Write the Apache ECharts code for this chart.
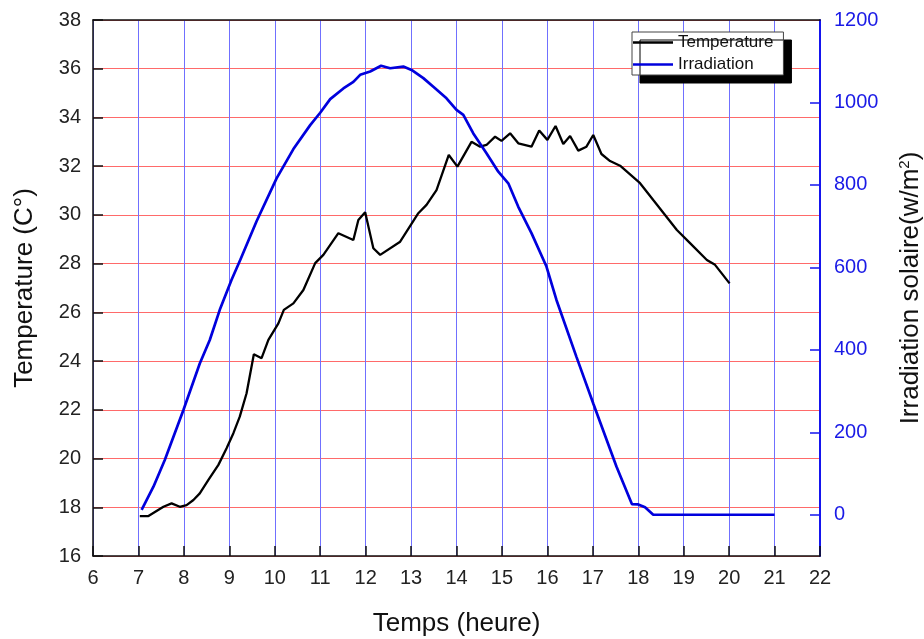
<!DOCTYPE html>
<html>
<head>
<meta charset="utf-8">
<script src="https://cdn.jsdelivr.net/npm/echarts@6/dist/echarts.min.js"></script>
<style>
html,body{margin:0;padding:0;background:#fff;}
#chart{width:924px;height:639px;}
</style>
</head>
<body>
<div id="chart"></div>
<script>
// Temperature series (hour, °C)
const tempHours = [7.03,7.22,7.55,7.73,7.91,8.06,8.21,8.35,8.54,8.76,8.94,9.09,9.23,9.38,9.54,9.71,9.86,10.08,10.2,10.41,10.63,10.89,11.07,11.4,11.73,11.84,11.99,12.17,12.32,12.76,13.16,13.34,13.56,13.83,14.02,14.33,14.52,14.66,14.85,14.99,15.18,15.36,15.65,15.82,16.0,16.18,16.35,16.5,16.68,16.86,17.01,17.19,17.38,17.6,18.04,18.33,18.85,19.14,19.51,19.69,20.01];
const tempValues = [17.64,17.64,18.02,18.16,18.02,18.09,18.3,18.57,19.12,19.74,20.42,21.04,21.72,22.68,24.28,24.12,24.87,25.55,26.1,26.37,26.92,28.02,28.36,29.25,28.97,29.79,30.11,28.63,28.36,28.9,30.07,30.41,31.02,32.46,31.98,33.0,32.8,32.87,33.21,33.04,33.35,32.94,32.8,33.46,33.08,33.65,32.91,33.24,32.64,32.8,33.28,32.5,32.21,32.02,31.3,30.61,29.38,28.84,28.15,27.95,27.19];
// Irradiation series (hour, W/m²)
const irrHours = [7.07,7.33,7.58,7.99,8.35,8.57,8.79,9.05,9.24,9.6,10.04,10.41,10.78,11.0,11.22,11.51,11.73,11.88,12.1,12.34,12.54,12.83,13.01,13.27,13.49,13.78,14.0,14.15,14.37,14.66,14.92,15.14,15.36,15.65,15.98,16.2,16.64,17.01,17.52,17.86,18.0,18.15,18.33,21.0];
const irrValues = [12,68,133,254,367,424,497,570,618,712,816,887,945,975,1008,1034,1050,1067,1075,1089,1083,1087,1079,1059,1038,1010,982,970,925,877,832,804,747,683,602,521,383,270,117,26,25,18,0,0];
// Axis ticks
const xTicks = [6,22,1];
const leftTicks = [16,38,2];
const rightRange = [-100,1200];
const rightLabelValues = [0,200,400,600,800,1000,1200];
const rightTickValues = [0,200,400,600,800,1000];

const tempData = tempHours.map((h,i)=>[h,tempValues[i]]);
const irrData = irrHours.map((h,i)=>[h,irrValues[i]]);

const FONT = 'Liberation Sans, Arial, sans-serif';
const chart = echarts.init(document.getElementById('chart'));
chart.setOption({
  animation:false,
  backgroundColor:'#fff',
  grid:{left:93,top:20,right:104,bottom:83,outerBoundsMode:'none',containLabel:false},
  legend:{
    left:632, top:32, orient:'vertical',
    padding:[2,10,2,1], itemGap:5, itemWidth:40, itemHeight:2.5, icon:'rect',
    backgroundColor:'#fff', borderColor:'#444', borderWidth:1,
    shadowColor:'#000', shadowOffsetX:8, shadowOffsetY:8, shadowBlur:0,
    textStyle:{fontFamily:FONT,fontSize:17,color:'#111'},
    data:['Temperature','Irradiation']
  },
  xAxis:[{
    type:'value', min:xTicks[0], max:xTicks[1], interval:xTicks[2], position:'bottom',
    name:'Temps (heure)', nameLocation:'middle', nameGap:55,
    nameTextStyle:{fontFamily:FONT,fontSize:26,color:'#111'},
    axisLine:{onZero:false,lineStyle:{color:'#111',width:1.5}},
    axisTick:{inside:true,length:10,lineStyle:{color:'#111',width:1.5}},
    axisLabel:{fontFamily:FONT,fontSize:20,color:'#222',margin:12},
    splitLine:{show:true,lineStyle:{color:'#7070ff',width:1}}
  },{
    type:'value', min:xTicks[0], max:xTicks[1], interval:xTicks[2], position:'top',
    axisLine:{show:true,onZero:false,lineStyle:{color:'#111',width:1.5}},
    axisTick:{show:false}, axisLabel:{show:false}, splitLine:{show:false}
  }],
  yAxis:[{
    type:'value', min:leftTicks[0], max:leftTicks[1], interval:leftTicks[2], position:'left',
    name:'Temperature (C°)', nameLocation:'middle', nameGap:55, nameRotate:90,
    nameTextStyle:{fontFamily:FONT,fontSize:26,color:'#111'},
    axisLine:{show:true,onZero:false,lineStyle:{color:'#111',width:1.5}},
    axisTick:{show:true,inside:true,length:10,lineStyle:{color:'#111',width:1.5}},
    axisLabel:{fontFamily:FONT,fontSize:20,color:'#222',margin:12},
    splitLine:{show:true,lineStyle:{color:'#ff6a6a',width:1}}
  },{
    type:'value', min:rightRange[0], max:rightRange[1], position:'right',
    name:'Irradiation solaire(w/m{sup|2})', nameLocation:'middle', nameGap:77, nameRotate:90,
    nameTextStyle:{fontFamily:FONT,fontSize:26,color:'#111',rich:{sup:{fontFamily:FONT,fontSize:15,color:'#111',verticalAlign:'top',padding:[0,0,12,0]}}},
    axisLine:{show:true,onZero:false,lineStyle:{color:'#1515ee',width:2}},
    axisTick:{show:true,inside:true,length:10,customValues:rightTickValues,lineStyle:{color:'#1515ee',width:1.5}},
    axisLabel:{fontFamily:FONT,fontSize:20,color:'#1a1ae6',margin:14,customValues:rightLabelValues,formatter:v=>String(v)},
    splitLine:{show:false}
  }],
  series:[{
    name:'Temperature', type:'line', xAxisIndex:0, yAxisIndex:0, data:tempData,
    symbol:'none', lineStyle:{color:'#000',width:2.3}, itemStyle:{color:'#000'}, z:3
  },{
    name:'Irradiation', type:'line', xAxisIndex:0, yAxisIndex:1, data:irrData,
    symbol:'none', lineStyle:{color:'#0000dd',width:2.7}, itemStyle:{color:'#0000dd'}, z:4
  }]
});
</script>
</body>
</html>
